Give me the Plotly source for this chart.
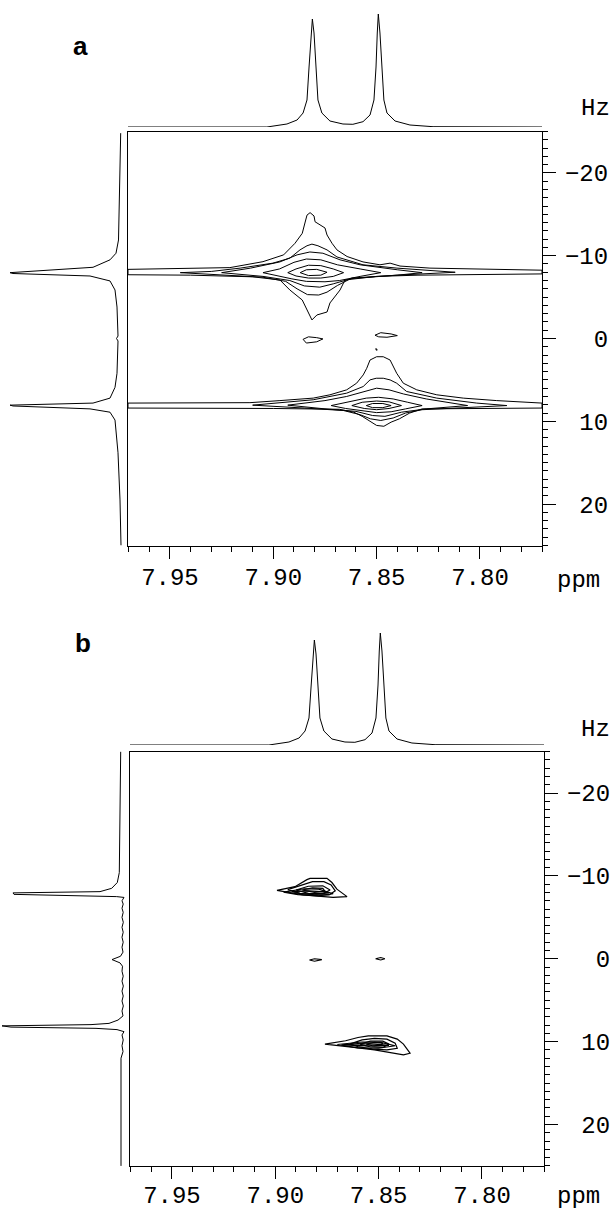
import plotly.graph_objects as go

W, H = 615, 1210

# ---------------- data ----------------
# top 1D projection (ppm, intensity)
top_ppm = [7.9703, 7.9031, 7.8934, 7.8885, 7.8856, 7.8837, 7.8827, 7.8818, 7.8811, 7.8803,
           7.8794, 7.8784, 7.8765, 7.8726, 7.8663, 7.8615, 7.8566, 7.8532, 7.8513, 7.8503,
           7.8497, 7.8492, 7.8484, 7.8474, 7.8465, 7.8450, 7.8411, 7.8339, 7.8227, 7.7700]
top_int_a = [0, 0, 3, 7, 14, 27, 60, 94, 108, 94, 60, 27, 14, 6, 3, 2.7, 5.3, 12, 27, 60,
             94, 113, 94, 60, 27, 14, 6, 2, 0.3, 0]
top_int_b = [0, 0, 3, 7, 14, 27, 58, 91, 105, 91, 58, 27, 14, 6, 3, 2.7, 5.3, 12, 27, 60,
             94, 112, 94, 60, 27, 14, 6, 2, 0.3, 0]

# left 1D projection (Hz, intensity)
left_a = [(-24.8, 0.3), (-14.3, 2), (-11.9, 2.5), (-10.3, 5), (-9.5, 11), (-8.6, 28),
          (-7.95, 111), (-7.85, 108), (-7.55, 31), (-6.95, 11), (-5.86, 6), (-3.8, 4),
          (-0.3, 3), (0.0, 4.5), (0.3, 3), (4.2, 4), (5.9, 6), (7.2, 11), (7.8, 28),
          (8.05, 111), (8.15, 108), (8.5, 31), (8.9, 11), (9.85, 6), (13.8, 3), (19.5, 1),
          (25.0, 0)]
left_b = [(-25, 0.3), (-12.8, 1), (-10.4, 1.7), (-9.2, 3.7), (-8.5, 9.3), (-8.1, 21),
          (-7.95, 108), (-7.77, 107), (-7.6, 21), (-7.5, 4.3), (-7.4, -3), (-7.0, -1),
          (-6.6, -2.2), (-6.1, -1), (-5.6, -2.2), (-5.0, -1), (-4.4, -2.3), (-3.8, -1),
          (-3.2, -2.2), (-2.6, -1), (-2.0, -2.2), (-1.4, -1), (-0.8, -2), (-0.3, 0.5),
          (0.1, 9), (0.5, 1), (0.9, -1.5), (1.5, -1), (2.1, -2.2), (2.7, -1), (3.3, -2.3),
          (3.9, -1), (4.5, -2.2), (5.1, -1), (5.7, -2.3), (6.3, -1), (6.9, -2), (7.4, 3),
          (7.8, 12), (7.95, 30), (8.1, 119), (8.25, 110), (8.4, 25), (8.55, 4),
          (8.8, -3), (9.2, -1), (9.8, -2.2), (10.5, -1), (11.2, -2), (12.0, 0), (25.0, 0)]

# contour lines, panel a (ppm, Hz)
a_p1_l1 = [(7.9703, -8.35), (7.950, -8.4), (7.930, -8.45), (7.921, -8.56), (7.905, -9.28),
           (7.895, -10.1), (7.8895, -11.5), (7.886, -12.7), (7.8847, -13.95), (7.8837, -14.9),
           (7.8822, -15.2), (7.8803, -14.8), (7.8798, -14.1), (7.8774, -13.7), (7.875, -13.35),
           (7.874, -12.5), (7.8716, -11.5), (7.8692, -10.7), (7.8643, -9.9), (7.8566, -9.25),
           (7.8484, -8.9), (7.8435, -9.1), (7.8387, -8.75), (7.8242, -8.5), (7.800, -8.35),
           (7.770, -8.25), (7.770, -7.8), (7.800, -7.75), (7.830, -7.65), (7.850, -7.5),
           (7.8653, -7.07), (7.8677, -5.86), (7.8726, -4.29), (7.874, -3.2), (7.8789, -2.84),
           (7.8813, -2.24), (7.8837, -3.45), (7.886, -4.65), (7.892, -5.86), (7.8968, -7.07),
           (7.910, -7.45), (7.940, -7.65), (7.9703, -7.7)]
a_p1_l2 = [(7.945, -7.95), (7.930, -8.1), (7.916, -8.5), (7.9002, -9.1), (7.892, -9.7),
           (7.8871, -10.7), (7.8837, -11.2), (7.8813, -11.4), (7.8784, -11.2), (7.874, -10.7),
           (7.8692, -9.85), (7.8566, -8.9), (7.8402, -8.5), (7.812, -8.0), (7.8402, -7.65),
           (7.862, -7.3), (7.869, -6.4), (7.874, -5.6), (7.878, -5.25), (7.8835, -5.3),
           (7.8885, -6.0), (7.894, -6.9), (7.905, -7.4), (7.925, -7.7)]
a_p1_l3 = [(7.925, -7.95), (7.911, -8.5), (7.8968, -9.25), (7.8885, -10.1), (7.8823, -10.45),
           (7.876, -10.3), (7.8677, -9.5), (7.858, -8.9), (7.840, -8.3), (7.828, -7.95),
           (7.840, -7.65), (7.862, -7.25), (7.871, -6.6), (7.8775, -6.2), (7.885, -6.35),
           (7.892, -7.0), (7.905, -7.5)]
a_p1_l4 = [(7.905, -7.95), (7.897, -8.4), (7.890, -9.2), (7.884, -9.6), (7.877, -9.5),
           (7.869, -8.9), (7.858, -8.4), (7.848, -7.95), (7.858, -7.5), (7.868, -7.0),
           (7.875, -6.85), (7.884, -6.9), (7.891, -7.2), (7.899, -7.6)]
a_p1_l5 = [(7.893, -7.95), (7.889, -8.4), (7.883, -8.85), (7.877, -8.8), (7.871, -8.4),
           (7.866, -7.95), (7.871, -7.5), (7.877, -7.3), (7.883, -7.3), (7.889, -7.55)]
a_p1_l6 = [(7.887, -7.95), (7.884, -8.3), (7.879, -8.35), (7.874, -8.0), (7.877, -7.65),
           (7.883, -7.6)]

a_p2_l1 = [(7.9703, 7.8), (7.940, 7.75), (7.9113, 7.75), (7.8968, 7.5), (7.8807, 7.2),
           (7.8726, 6.8), (7.8645, 6.2), (7.8597, 5.4), (7.8565, 4.4), (7.8548, 3.6),
           (7.8532, 2.6), (7.8500, 2.2), (7.8468, 2.2), (7.8435, 2.6), (7.8419, 3.4),
           (7.8403, 4.2), (7.8371, 5.4), (7.8306, 6.2), (7.8209, 6.8), (7.8081, 7.2),
           (7.7919, 7.5), (7.770, 7.8), (7.770, 8.4), (7.800, 8.45), (7.828, 8.5),
           (7.834, 9.0), (7.839, 9.7), (7.843, 10.1), (7.8465, 10.6), (7.850, 10.5),
           (7.853, 10.0), (7.857, 9.4), (7.861, 8.9), (7.868, 8.55), (7.900, 8.45),
           (7.9703, 8.4)]
a_p2_l2 = [(7.910, 8.05), (7.897, 7.8), (7.8807, 7.4), (7.8645, 6.6), (7.8565, 5.8),
           (7.8532, 5.0), (7.8502, 4.8), (7.8468, 4.8), (7.8435, 5.0), (7.8403, 5.4),
           (7.8355, 6.4), (7.8209, 7.2), (7.8016, 7.8), (7.787, 8.1), (7.805, 8.35),
           (7.828, 8.6), (7.836, 9.0), (7.842, 9.6), (7.848, 9.9), (7.853, 9.7),
           (7.858, 9.2), (7.866, 8.7), (7.885, 8.4)]
a_p2_l3 = [(7.893, 8.05), (7.875, 7.5), (7.8645, 7.0), (7.8565, 6.4), (7.8500, 6.0),
           (7.844, 6.2), (7.837, 6.7), (7.826, 7.3), (7.806, 8.1), (7.826, 8.5),
           (7.838, 8.9), (7.846, 9.4), (7.852, 9.3), (7.860, 8.8), (7.875, 8.5)]
a_p2_l4 = [(7.872, 8.1), (7.862, 7.6), (7.855, 7.2), (7.849, 7.1), (7.842, 7.3),
           (7.835, 7.7), (7.828, 8.1), (7.836, 8.5), (7.843, 8.85), (7.850, 8.95),
           (7.857, 8.7), (7.865, 8.45)]
a_p2_l5 = [(7.862, 8.1), (7.857, 7.7), (7.850, 7.55), (7.844, 7.65), (7.838, 8.1),
           (7.844, 8.45), (7.850, 8.6), (7.856, 8.45)]
a_p2_l6 = [(7.855, 8.1), (7.852, 7.85), (7.847, 7.85), (7.843, 8.1), (7.847, 8.35),
           (7.852, 8.35)]
a_blob_1 = [(7.8856, 0.1), (7.883, -0.2), (7.879, -0.1), (7.876, 0.05), (7.879, 0.4),
            (7.884, 0.55)]
a_blob_2 = [(7.8508, -0.4), (7.848, -0.7), (7.843, -0.55), (7.840, -0.35), (7.845, -0.15),
            (7.849, -0.2)]
a_dot = [(7.8503, 1.2), (7.8497, 1.4), (7.8503, 1.4)]

# contour lines, panel b (ppm, Hz)
b_p1_l1 = [(7.8992, -8.25), (7.8905, -8.7), (7.8847, -9.55), (7.8832, -9.7), (7.875, -9.7),
           (7.8726, -9.2), (7.8702, -8.4), (7.8653, -7.5), (7.8721, -7.4), (7.8784, -7.5),
           (7.8866, -7.7)]
b_p1_l2 = [(7.894, -8.35), (7.887, -8.9), (7.882, -9.3), (7.8765, -9.3), (7.873, -8.9),
           (7.871, -8.2), (7.874, -7.7), (7.881, -7.7), (7.888, -7.9)]
b_p1_l3 = [(7.890, -8.3), (7.884, -8.75), (7.877, -8.8), (7.8735, -8.3), (7.877, -7.85),
           (7.884, -7.9)]
b_p1_l4 = [(7.887, -8.3), (7.882, -8.55), (7.877, -8.5), (7.876, -8.15), (7.881, -8.0)]
b_p1_l5 = [(7.892, -8.1), (7.884, -8.2), (7.878, -8.1), (7.874, -7.95), (7.880, -7.8),
           (7.888, -7.85)]
b_p1_l6 = [(7.896, -8.05), (7.886, -8.45), (7.879, -8.4), (7.872, -7.85), (7.879, -7.6),
           (7.889, -7.75)]
b_p2_l1 = [(7.876, 10.3), (7.866, 9.9), (7.860, 9.5), (7.855, 9.3), (7.846, 9.3),
           (7.841, 9.7), (7.838, 10.3), (7.8348, 11.4), (7.838, 11.6), (7.845, 11.3),
           (7.852, 11.0), (7.862, 10.7)]
b_p2_l2 = [(7.864, 10.3), (7.858, 9.8), (7.852, 9.6), (7.846, 9.7), (7.842, 10.2),
           (7.841, 10.8), (7.846, 11.0), (7.853, 10.9), (7.860, 10.6)]
b_p2_l3 = [(7.859, 10.3), (7.854, 9.95), (7.848, 9.95), (7.845, 10.3), (7.848, 10.7),
           (7.854, 10.65)]
b_p2_l4 = [(7.856, 10.3), (7.852, 10.1), (7.848, 10.2), (7.849, 10.45), (7.853, 10.5)]
b_p2_l5 = [(7.868, 10.4), (7.860, 10.25), (7.852, 10.3), (7.845, 10.45), (7.852, 10.55),
           (7.860, 10.5)]
b_p2_l6 = [(7.870, 10.35), (7.858, 10.05), (7.849, 10.1), (7.842, 10.5), (7.850, 10.8),
           (7.860, 10.75)]
b_dash_1 = [(7.8835, 0.15), (7.881, 0.0), (7.8775, 0.1), (7.881, 0.3)]
b_dash_2 = [(7.8515, 0.0), (7.849, -0.15), (7.847, 0.0), (7.849, 0.15)]

hz_ticks = [-20, -10, 0, 10, 20]
hz_labels = ["\u221220", "\u221210", "\u00a0\u00a00", "\u00a010", "\u00a020"]
ppm_ticks = [7.95, 7.90, 7.85, 7.80]
ppm_labels = ["7.95", "7.90", "7.85", "7.80"]
ppm_range = [7.9703, 7.770]
hz_range = [25, -25]

a_contours = [a_p1_l1, a_p1_l2, a_p1_l3, a_p1_l4, a_p1_l5, a_p1_l6,
              a_p2_l1, a_p2_l2, a_p2_l3, a_p2_l4, a_p2_l5, a_p2_l6,
              a_blob_1, a_blob_2, a_dot]
b_contours = [b_p1_l1, b_p1_l2, b_p1_l3, b_p1_l4, b_p1_l5, b_p1_l6,
              b_p2_l1, b_p2_l2, b_p2_l3, b_p2_l4, b_p2_l5, b_p2_l6, b_dash_1, b_dash_2]

# ---------------- figure ----------------
MONO = "Liberation Mono, Courier New, monospace"
fig = go.Figure()


def add_poly(pts, xa, ya, width=1):
    xs = [p[0] for p in pts] + [pts[0][0]]
    ys = [p[1] for p in pts] + [pts[0][1]]
    fig.add_trace(go.Scatter(x=xs, y=ys, mode="lines", xaxis=xa, yaxis=ya,
                             line=dict(color="black", width=width), hoverinfo="skip",
                             showlegend=False))


for c in a_contours:
    add_poly(c, "x", "y")
for c in b_contours:
    add_poly(c, "x4", "y4", 1.2)

fig.add_trace(go.Scatter(x=top_ppm, y=top_int_a, mode="lines", xaxis="x2", yaxis="y2",
                         line=dict(color="black", width=1), showlegend=False, hoverinfo="skip"))
fig.add_trace(go.Scatter(x=top_ppm, y=top_int_b, mode="lines", xaxis="x5", yaxis="y5",
                         line=dict(color="black", width=1), showlegend=False, hoverinfo="skip"))
fig.add_trace(go.Scatter(x=[p[1] for p in left_a], y=[p[0] for p in left_a], mode="lines",
                         xaxis="x3", yaxis="y3", line=dict(color="black", width=1),
                         showlegend=False, hoverinfo="skip"))
fig.add_trace(go.Scatter(x=[p[1] for p in left_b], y=[p[0] for p in left_b], mode="lines",
                         xaxis="x6", yaxis="y6", line=dict(color="black", width=1),
                         showlegend=False, hoverinfo="skip"))


def ppm_axis(domain, anchor, standoff):
    return dict(domain=domain, range=ppm_range, anchor=anchor, showline=True, mirror=True,
                linecolor="black", linewidth=1.2, ticks="outside", ticklen=12, tickwidth=1,
                tickcolor="black", tickvals=ppm_ticks, ticktext=ppm_labels,
                minor=dict(dtick=0.01, tick0=7.95, ticks="outside", ticklen=5,
                           tickcolor="black", tickwidth=1),
                tickfont=dict(family=MONO, size=24, color="black"),
                ticklabelstandoff=standoff, showgrid=False, zeroline=False)


def hz_axis(domain, anchor):
    return dict(domain=domain, range=hz_range, anchor=anchor, side="right", showline=True,
                mirror=True, linecolor="black", linewidth=1.2, ticks="outside", ticklen=13,
                tickwidth=1, tickcolor="black", tickvals=hz_ticks, ticktext=hz_labels,
                minor=dict(dtick=1, tick0=0, ticks="outside", ticklen=5, tickcolor="black",
                           tickwidth=1),
                tickfont=dict(family=MONO, size=24, color="black"), ticklabelstandoff=4,
                showgrid=False, zeroline=False)


def hidden(domain, rng, anchor):
    return dict(domain=domain, range=rng, anchor=anchor, visible=False, showgrid=False,
                zeroline=False)


xa_dom = [128 / W, 542 / W]
xb_dom = [130 / W, 544 / W]
ya_dom = [1 - 545.5 / H, 1 - 131.5 / H]
yb_dom = [1 - 1165.9 / H, 1 - 751.6 / H]
left_dom = [0, 127 / W]
left_rng = [121, -6]

fig.update_layout(
    width=W, height=H, autosize=False, margin=dict(l=0, r=0, t=0, b=0),
    paper_bgcolor="white", plot_bgcolor="rgba(0,0,0,0)", template="none", showlegend=False,
    xaxis=ppm_axis(xa_dom, "y", -2),
    yaxis=hz_axis(ya_dom, "x"),
    xaxis2=hidden(xa_dom, ppm_range, "y2"),
    yaxis2=hidden([1 - 127 / H, 1.0], [0, 127], "x2"),
    xaxis3=hidden(left_dom, left_rng, "y3"),
    yaxis3=hidden(ya_dom, hz_range, "x3"),
    xaxis4=ppm_axis(xb_dom, "y4", -5),
    yaxis4=hz_axis(yb_dom, "x4"),
    xaxis5=hidden(xb_dom, ppm_range, "y5"),
    yaxis5=hidden([1 - 745 / H, 1 - 618 / H], [0, 127], "x5"),
    xaxis6=hidden(left_dom, left_rng, "y6"),
    yaxis6=hidden(yb_dom, hz_range, "x6"),
)


def label(text, px, py, font):
    fig.add_annotation(text=text, x=px / W, y=1 - py / H, xref="paper", yref="paper",
                       showarrow=False, xanchor="center", yanchor="middle", font=font)


label("<b>a</b>", 80, 46, dict(family="Liberation Sans, Arial", size=26, color="black"))
label("<b>b</b>", 83, 643, dict(family="Liberation Sans, Arial", size=26, color="black"))
label("Hz", 595, 109, dict(family=MONO, size=24, color="black"))
label("Hz", 595, 729, dict(family=MONO, size=24, color="black"))
label("ppm", 578, 581, dict(family=MONO, size=24, color="black"))
label("ppm", 578, 1196, dict(family=MONO, size=24, color="black"))

fig.write_html("out.html", config={"displayModeBar": False},
               post_script="document.body.style.margin='0px';document.body.style.overflow='hidden';")
